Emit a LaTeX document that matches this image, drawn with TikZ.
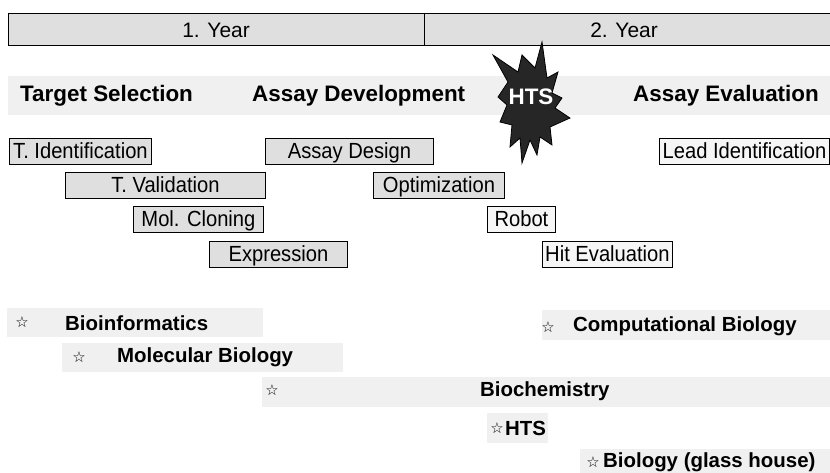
\documentclass[tikz,border=0pt]{standalone}
\usepackage{fontspec}
\setmainfont{Liberation Sans}
\newfontfamily\narrowfont[FakeStretch=0.92]{Liberation Sans}
\newfontfamily\symfont{DejaVu Sans}
\usepackage{tikz}
\usetikzlibrary{calc}

\begin{document}
\begin{tikzpicture}[x=1bp,y=-1bp,
        task/.style={draw,line width=0.9pt,fill=gray!25,anchor=north west,inner sep=0pt,minimum height=26bp,
            text height=18bp,text depth=4bp,font=\narrowfont\fontsize{22}{26}\selectfont},
        lighttask/.style={task,fill=gray!7},
        band/.style={fill=gray!12},
        phase/.style={anchor=west,inner sep=0pt,font=\fontsize{22.5}{26}\selectfont\bfseries},
        area/.style={anchor=west,inner sep=0pt,font=\fontsize{20.5}{24}\selectfont\bfseries},
        starmark/.style={inner sep=0pt,font=\symfont\fontsize{15}{17}\selectfont}]
    \useasboundingbox (0,0) rectangle (830,473);
    % years
    \coordinate (YL) at (8,14);
    \coordinate (YR) at (830,46);
    \coordinate (YM) at (424,14);
    \fill[gray!25] (YL) rectangle (YR);
    \draw[line width=1pt] (830,14) -- (YL) -- (8,46) -- (830,46);
    \draw[line width=1pt] (YM) -- (424,46);
    \node[font=\fontsize{21}{25}\selectfont] (year1) at (216,30) {1. Year};
    \node[font=\fontsize{21}{25}\selectfont] (year2) at (624,30) {2. Year};
    % phases
    \fill[band] (8,76) rectangle (830,115);
    \node[phase] (target) at (20,96) {Target Selection};
    \node[phase] (assaydev) at (252,96) {Assay Development};
    \node[phase] (assayeval) at (633,96) {Assay Evaluation};
    \draw[fill=black!85,line width=0.8pt] (542,42) -- (535,68) -- (522,55) -- (518,72)
        -- (493,55) -- (508,82) -- (498,97) -- (507,105) -- (500,122) -- (512,125)
        -- (510,147) -- (520,138) -- (522,163) -- (530,140) -- (537,155) -- (540,137)
        -- (552,145) -- (550,127) -- (570,118) -- (555,108) -- (562,98) -- (552,93)
        -- (558,72) -- (547,78) -- cycle;
    \node[text=white,font=\fontsize{22.5}{26}\selectfont\bfseries] (hts) at (531,97) {HTS};
    % tasks
    \node[task,minimum width=142bp] (tident) at (9,138) {T. Identification};
    \node[task,minimum width=168bp] (design) at (265,138) {Assay Design};
    \node[lighttask,minimum width=170bp] (lead) at (659,138) {Lead Identification};
    \node[task,minimum width=200bp] (tvalid) at (65,172) {T. Validation};
    \node[task,minimum width=131bp] (optim) at (373,172) {Optimization};
    \node[task,minimum width=130bp] (cloning) at (133,206) {Mol. Cloning};
    \node[lighttask,minimum width=68bp] (robot) at (487,206) {Robot};
    \node[task,minimum width=138bp] (express) at (209,241) {Expression};
    \node[lighttask,minimum width=130bp] (hiteval) at (542,241) {Hit Evaluation};
    % disciplines
    \fill[band] (7,308) rectangle (263,337);
    \node[starmark] (bioinfstar) at (22,322) {☆};
    \node[area] (bioinf) at (65,323) {Bioinformatics};
    \fill[band] (542,310) rectangle (830,340);
    \node[starmark] (compbiostar) at (548,327) {☆};
    \node[area] (compbio) at (573,326) {Computational Biology};
    \fill[band] (62,343) rectangle (343,372);
    \node[starmark] (molbiostar) at (79,357) {☆};
    \node[area] (molbio) at (117,357) {Molecular Biology};
    \fill[band] (262,377) rectangle (830,407);
    \node[starmark] (biochemstar) at (272,390) {☆};
    \node[area] (biochem) at (480,391) {Biochemistry};
    \fill[band] (487,413) rectangle (548,443);
    \node[starmark] (htsstar) at (497,428) {☆};
    \node[area] (htsarea) at (505,428) {HTS};
    \fill[band] (580,449) rectangle (830,473);
    \node[starmark] (glassstar) at (593,462) {☆};
    \node[area] (glass) at (603,462) {Biology (glass house)};
\end{tikzpicture}
\end{document}
